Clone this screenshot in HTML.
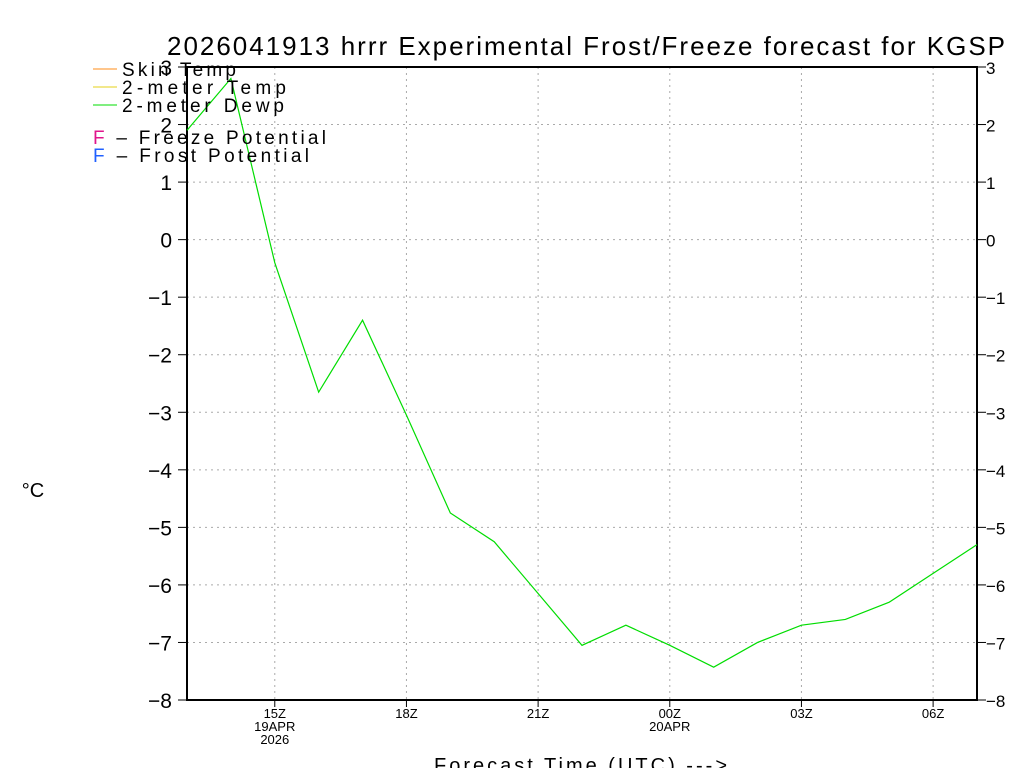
<!DOCTYPE html>
<html><head><meta charset="utf-8"><style>
body{margin:0;background:#fff;width:1024px;height:768px;overflow:hidden}
svg text{font-family:"Liberation Sans",sans-serif}
</style></head><body>
<svg id="chart" width="1024" height="768" viewBox="0 0 1024 768" xmlns="http://www.w3.org/2000/svg">
<text x="167" y="55" font-size="26" textLength="838" lengthAdjust="spacing" fill="#000">2026041913 hrrr Experimental Frost/Freeze forecast for KGSP</text>
<text x="33" y="497" font-size="20" text-anchor="middle" fill="#000">°C</text>
<text x="434" y="772" font-size="20" textLength="293" lengthAdjust="spacing" fill="#000">Forecast Time (UTC) ---&gt;</text>
<g id="grid"></g><g id="axes"></g><g id="series"></g>
<g font-size="19" fill="#000">
<line x1="93" y1="69" x2="117" y2="69" stroke="#ff8c1a" stroke-width="1"/><text x="122" y="76" textLength="114" lengthAdjust="spacing">Skin Temp</text>
<line x1="93" y1="87" x2="117" y2="87" stroke="#e6d21a" stroke-width="1"/><text x="122" y="94" textLength="164" lengthAdjust="spacing">2-meter Temp</text>
<line x1="93" y1="105" x2="117" y2="105" stroke="#00dd00" stroke-width="1"/><text x="122" y="112" textLength="162" lengthAdjust="spacing">2-meter Dewp</text>
<text x="93" y="144" textLength="233" lengthAdjust="spacing"><tspan fill="#e0158c">F</tspan> – Freeze Potential</text>
<text x="93" y="162" textLength="216" lengthAdjust="spacing"><tspan fill="#2060ff">F</tspan> – Frost Potential</text>
</g>
</svg>
<script>
const hours = [13,14,15,16,17,18,19,20,21,22,23,24,25,26,27,28,29,30,31];
const dewpoint = [1.9,2.8,-0.4,-2.65,-1.4,-3.05,-4.75,-5.25,-6.15,-7.05,-6.7,-7.05,-7.43,-7.0,-6.7,-6.6,-6.3,-5.8,-5.3];
const yTicks = [3,2,1,0,-1,-2,-3,-4,-5,-6,-7,-8];
const xTickHours = [15,18,21,24,27,30];
const xTickLabels = ["15Z","18Z","21Z","00Z","03Z","06Z"];
const xTickSub = [["19APR","2026"],[],[],["20APR"],[],[]];
const L=187,R=977,T=67,B=700,h0=13,h1=31,yMin=-8,yMax=3;
const xs=h=>L+(h-h0)/(h1-h0)*(R-L);
const ys=v=>B-(v-yMin)/(yMax-yMin)*(B-T);
const NS="http://www.w3.org/2000/svg";
function mk(tag,attrs,parent,txt){const e=document.createElementNS(NS,tag);for(const k in attrs)e.setAttribute(k,attrs[k]);if(txt!==undefined)e.textContent=txt;document.getElementById(parent).appendChild(e);return e;}
yTicks.forEach(v=>{
  const y=ys(v);
  const g=mk('line',{x1:L,x2:R,y1:y,y2:y,stroke:'#aaa','stroke-dasharray':'2,4','stroke-width':1},'grid');
  
  
  mk('line',{x1:L-9,x2:L,y1:y,y2:y,stroke:'#000','stroke-width':1},'axes');
  mk('line',{x1:R,x2:R+9,y1:y,y2:y,stroke:'#000','stroke-width':1},'axes');
  const lab=String(v).replace('-','\u2212');
  const t1=mk('text',{x:172,y:y+8,'font-size':21,'text-anchor':'end',fill:'#000'},'axes',lab);
  
  
  const t2=mk('text',{x:986,y:y+7,'font-size':17,'text-anchor':'start',fill:'#000'},'axes',lab);
  
  
});
xTickHours.forEach((h,i)=>{
  const x=xs(h);
  const g=mk('line',{x1:x,x2:x,y1:T,y2:B,stroke:'#aaa','stroke-dasharray':'2,4','stroke-width':1},'grid');
  
  
  mk('line',{x1:x,x2:x,y1:B,y2:B+7,stroke:'#000','stroke-width':1},'axes');
  const t=mk('text',{x:x,y:B+18,'font-size':13,'text-anchor':'middle',fill:'#000'},'axes',xTickLabels[i]);
  
  
  xTickSub[i].forEach((s,j)=>{mk('text',{x:x,y:B+31+13*j,'font-size':13,'text-anchor':'middle',fill:'#000'},'axes',s);});
});
const fr=mk('rect',{x:L,y:T,width:R-L,height:B-T,fill:'none',stroke:'#000','stroke-width':2},'axes');


const pl=mk('polyline',{points:hours.map((h,i)=>xs(h)+','+ys(dewpoint[i])).join(' '),fill:'none',stroke:'#00dd00','stroke-width':1.2},'series');


</script>
</body></html>
